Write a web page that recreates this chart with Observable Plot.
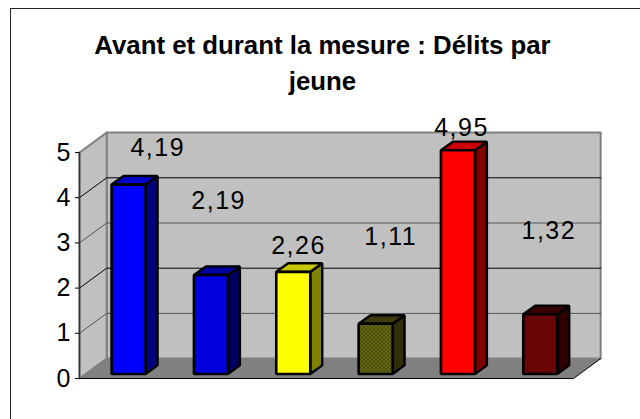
<!DOCTYPE html>
<html><head><meta charset="utf-8">
<script src="https://cdn.jsdelivr.net/npm/d3@7"></script>
<script src="https://cdn.jsdelivr.net/npm/@observablehq/plot@0.6"></script>
<style>
html,body{margin:0;padding:0;background:#fff;overflow:hidden}
#page{position:relative;width:640px;height:419px;font-family:"Liberation Sans",Arial,sans-serif}
#frame{position:absolute;left:10px;top:8px;width:640px;height:440px;border:1.5px solid #222;box-sizing:border-box}
#title{position:absolute;left:0;top:27px;width:645px;text-align:center;font-weight:bold;font-size:25.8px;line-height:36px;color:#000}
#chart{position:absolute;left:0;top:100px}
#chart svg{display:block;overflow:visible}
#chart g[aria-label="text"] text{letter-spacing:1.5px}
</style></head><body>
<div id="page"><div id="frame"></div>
<div id="title">Avant et durant la mesure : Délits par<br>jeune</div>
<div id="chart"></div></div>
<script>
// Data
const values = [4.19, 2.19, 2.26, 1.11, 4.95, 1.32];
const labels = ["4,19", "2,19", "2,26", "1,11", "4,95", "1,32"];
const faceColors = ["#0000ff", "url(#dither-blue)", "#ffff00", "url(#dither-olive)", "#ff0000", "url(#dither-red)"];
const sideColors = ["#000080", "#000060", "#808000", "#2e2e08", "#800000", "#300000"];
const topColors  = ["#0000cc", "#0000a0", "#c8c800", "#3c3c0a", "#cc0000", "#3a0000"];
// Where each free-floating value label sits, read in axis units
const labelX = [0.95, 1.69, 2.66, 3.78, 4.64, 5.70];
const labelY = [5.09, 3.92, 2.94, 3.12, 5.55, 3.27];
const yTicks = [0, 1, 2, 3, 4, 5];

// 3D projection in axis units
const wallX = 0.33, wallY = 0.44;      // wall recess
const barW = 0.413, barGap = 0.39;     // bar width and left inset
const barDX = 0.145, barDY = 0.19;     // bar depth
const liftY = 0.1;                     // bar base above the front edge

const poly = (id, fill, pts, extra = {}) => pts.map(([x, y]) => ({id, fill, x, y, ...extra}));
const faces = (rows, o) => Plot.line(rows, {x: "x", y: "y", z: "id", fill: "fill", curve: "linear-closed", ...o});

const wallBack = poly("b", "#c0c0c0", [[wallX,wallY],[6+wallX,wallY],[6+wallX,5+wallY],[wallX,5+wallY]]);
const wallLeft = poly("l", "#c0c0c0", [[0,0],[wallX,wallY],[wallX,5+wallY],[0,5]]);
const floor = poly("f", "#808080", [[0,0],[6,0],[6+wallX,wallY],[wallX,wallY]]);

const barX = i => i + barGap;
const fronts = values.flatMap((v, i) => poly("f"+i, faceColors[i], [[barX(i),liftY],[barX(i)+barW,liftY],[barX(i)+barW,liftY+v],[barX(i),liftY+v]]));
const sides = values.flatMap((v, i) => poly("s"+i, sideColors[i], [[barX(i)+barW,liftY],[barX(i)+barW+barDX,liftY+barDY],[barX(i)+barW+barDX,liftY+v+barDY],[barX(i)+barW,liftY+v]]));
const tops = values.flatMap((v, i) => poly("t"+i, topColors[i], [[barX(i),liftY+v],[barX(i)+barW,liftY+v],[barX(i)+barW+barDX,liftY+v+barDY],[barX(i)+barDX,liftY+v+barDY]]));

const gridTicks = yTicks.filter(t => t > 0 && t < 5);
const gridRows = gridTicks.flatMap(t => poly("g"+t, "none", [[0,t],[wallX,t+wallY],[6+wallX,t+wallY]], {shade: t % 2 ? "#555" : "#000"}));

function patterns() {
  const ns = "http://www.w3.org/2000/svg";
  const defs = document.createElementNS(ns, "defs");
  const make = (id, a, b) => {
    const p = document.createElementNS(ns, "pattern");
    p.setAttribute("id", id); p.setAttribute("patternUnits", "userSpaceOnUse");
    p.setAttribute("width", 4); p.setAttribute("height", 4);
    p.innerHTML = `<rect width="4" height="4" fill="${a}"/><rect x="1" y="0" width="1" height="2" fill="${b}"/><rect x="3" y="2" width="1" height="2" fill="${b}"/>`;
    defs.appendChild(p);
  };
  make("dither-blue", "#0000f0", "#0000a8");
  make("dither-olive", "#6a6a10", "#2a2a08");
  make("dither-red", "#7a0808", "#300000");
  return defs;
}

const plot = Plot.plot({
  width: 640, height: 319, margin: 0,
  style: {fontFamily: '"Liberation Sans",Arial,sans-serif', background: "transparent", overflow: "visible"},
  x: {domain: [0, 6], range: [79, 573], axis: null},
  y: {domain: [0, 5], range: [278, 52], axis: null},
  marks: [
    patterns,
    faces(wallBack, {stroke: "#808080", strokeWidth: 2}),
    faces(wallLeft, {stroke: "#808080", strokeWidth: 2}),
    faces(floor, {stroke: "none"}),
    Plot.line(gridRows, {x: "x", y: "y", z: "id", stroke: "shade", strokeWidth: 1}),
    Plot.line(poly("e","none",[[0,0],[6,0],[6+wallX,wallY]]), {x:"x", y:"y", stroke:"#000", strokeWidth:1}),
    Plot.line(poly("a","none",[[0,0],[0,5]]), {x:"x", y:"y", stroke:"#333", strokeWidth:1.5}),
    Plot.axisY({ticks: yTicks, anchor: "left", tickSize: 4, tickPadding: 5, fontSize: 25, tickFormat: d => d, x: 0, label: null, stroke: "#000", fill: "#000"}),
    faces(sides, {stroke: "#000", strokeWidth: 2.4, strokeLinejoin: "miter"}),
    faces(tops, {stroke: "#000", strokeWidth: 2.4, strokeLinejoin: "miter"}),
    faces(fronts, {stroke: "#000", strokeWidth: 2.6, strokeLinejoin: "miter"}),
    Plot.text(labels, {x: (d, i) => labelX[i], y: (d, i) => labelY[i], text: d => d, fontSize: 25, fill: "#000"})
  ]
});
document.getElementById("chart").appendChild(plot);
</script>
</body></html>
